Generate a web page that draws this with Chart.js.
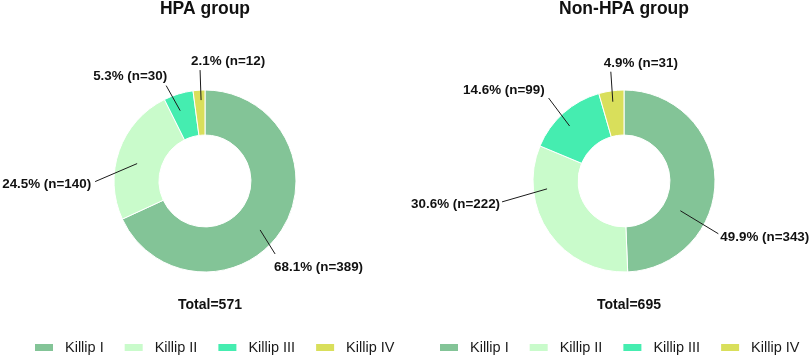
<!DOCTYPE html>
<html>
<head>
<meta charset="utf-8">
<script src="https://cdn.jsdelivr.net/npm/chart.js@4.4.1/dist/chart.umd.min.js"></script>
<style>
  body { margin: 0; background: #fff; }
  .wrap { position: absolute; top: 0; width: 405px; height: 359px; }
</style>
</head>
<body>
<div class="wrap" style="left:0"><canvas id="chartHpa"></canvas></div>
<div class="wrap" style="left:405px"><canvas id="chartNonHpa"></canvas></div>
<script>
const categories = ['Killip I', 'Killip II', 'Killip III', 'Killip IV'];
const hpaCounts = [389, 140, 30, 12];
const hpaPercents = [68.1, 24.5, 5.3, 2.1];
const nonHpaCounts = [343, 222, 99, 31];
const nonHpaPercents = [49.9, 30.6, 14.6, 4.9];
const sliceColors = ['#83c497', '#c9fbcb', '#45edb0', '#d9df5b'];

// leader line placement per slice: angle shift (deg), start radius (fraction), end offset, text offset
const hpaLeaders = [
    { da: 9, r0: 0.81, dx: 15, dy: 24, tx: -1, ty: 13, align: 'left' },
    { da: -5, r0: 0.77, dx: -42, dy: 18, tx: -4, ty: 3, align: 'right' },
    { da: -2.4, r0: 0.82, dx: -14, dy: -25, tx: 1, ty: -9, align: 'right' },
    { da: 1, r0: 0.89, dx: -1, dy: -30, tx: -9, ty: -9, align: 'left' }
];
const nonHpaLeaders = [
    { da: 29, r0: 0.70, dx: 38, dy: 23, tx: 2, ty: 4, align: 'left' },
    { da: 29, r0: 0.85, dx: -45, dy: 13, tx: -2, ty: 2, align: 'right' },
    { da: -3, r0: 0.85, dx: -21, dy: -28, tx: -4, ty: -7.5, align: 'right' },
    { da: 0, r0: 0.88, dx: -2, dy: -30, tx: -7, ty: -8, align: 'left' }
];

const FONT = 'Arial, "Liberation Sans", sans-serif';

const sliceLabels = {
    id: 'sliceLabels',
    afterDatasetsDraw(chart, args, opts) {
        const ctx = chart.ctx;
        const meta = chart.getDatasetMeta(0);
        const counts = chart.data.datasets[0].data;
        let cx = 0, cy = 0;
        ctx.save();
        ctx.strokeStyle = '#1a1a1a';
        ctx.lineWidth = 1;
        ctx.fillStyle = '#111';
        ctx.font = 'bold 13.4px ' + FONT;
        ctx.textBaseline = 'middle';
        meta.data.forEach((arc, i) => {
            const p = arc.getProps(['x', 'y', 'startAngle', 'endAngle', 'outerRadius'], true);
            cx = p.x; cy = p.y;
            const lay = opts.leaders[i];
            const a = (p.startAngle + p.endAngle) / 2 + lay.da * Math.PI / 180;
            const sx = p.x + Math.cos(a) * p.outerRadius * lay.r0;
            const sy = p.y + Math.sin(a) * p.outerRadius * lay.r0;
            const ex = sx + lay.dx, ey = sy + lay.dy;
            ctx.beginPath();
            ctx.moveTo(sx, sy);
            ctx.lineTo(ex, ey);
            ctx.stroke();
            ctx.textAlign = lay.align;
            ctx.fillText(opts.percents[i].toFixed(1) + '% (n=' + counts[i] + ')', ex + lay.tx, ey + lay.ty);
        });

        // total under the ring
        const total = counts.reduce((s, v) => s + v, 0);
        ctx.font = 'bold 14px ' + FONT;
        ctx.textAlign = 'center';
        ctx.fillText('Total=' + total, cx + 5, cy + 124);

        // legend row
        ctx.font = '14.5px ' + FONT;
        ctx.textAlign = 'left';
        let x = 35;
        const y = 347.5;
        chart.data.labels.forEach((lab, i) => {
            ctx.fillStyle = chart.data.datasets[0].backgroundColor[i];
            ctx.fillRect(x, y - 3.5, 18, 7);
            ctx.fillStyle = '#1a1a1a';
            ctx.fillText(lab, x + 30, y);
            x += 30 + ctx.measureText(lab).width + 21;
        });
        ctx.restore();
    }
};

function makeDonut(canvasId, title, counts, percents, leaders, padLeft) {
    const ctx = document.getElementById(canvasId).getContext('2d');
    return new Chart(ctx, {
        type: 'doughnut',
        data: {
            labels: categories,
            datasets: [{
                data: counts,
                backgroundColor: sliceColors,
                borderColor: '#ffffff',
                borderWidth: 1
            }]
        },
        options: {
            responsive: true,
            maintainAspectRatio: false,
            animation: false,
            radius: 91,
            cutout: '50.5%',
            layout: { padding: { left: padLeft, right: 0, top: 0, bottom: 24 } },
            plugins: {
                legend: { display: false },
                tooltip: { enabled: false },
                title: {
                    display: true,
                    text: title,
                    color: '#111',
                    font: { family: FONT, size: 17.5, weight: 'bold', lineHeight: 1 },
                    padding: { top: 0, bottom: 9.5 }
                },
                sliceLabels: { percents: percents, leaders: leaders }
            }
        },
        plugins: [sliceLabels]
    });
}

makeDonut('chartHpa', 'HPA group', hpaCounts, hpaPercents, hpaLeaders, 5);
makeDonut('chartNonHpa', 'Non-HPA group', nonHpaCounts, nonHpaPercents, nonHpaLeaders, 33);
</script>
</body>
</html>
